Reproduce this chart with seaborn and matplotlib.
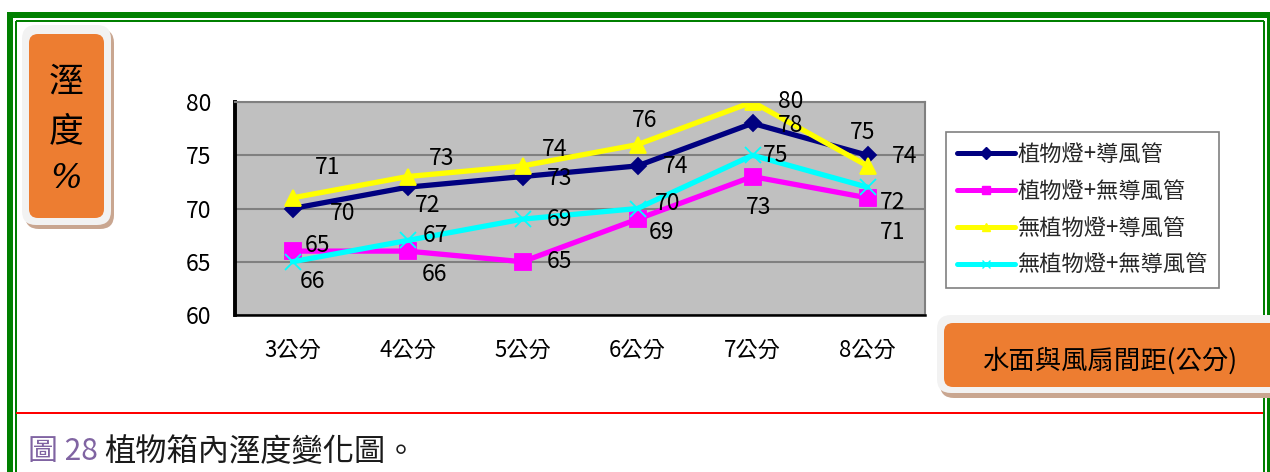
import numpy as np
import pandas as pd
import matplotlib
matplotlib.use("Agg")
import matplotlib.pyplot as plt
import seaborn as sns
from matplotlib.patches import FancyBboxPatch
from matplotlib.lines import Line2D

# ---- data ----
distances = ["3公分", "4公分", "5公分", "6公分", "7公分", "8公分"]
series_names = ["植物燈+導風管", "植物燈+無導風管", "無植物燈+導風管", "無植物燈+無導風管"]
lamp_duct = [70, 72, 73, 74, 78, 75]
lamp_no_duct = [66, 66, 65, 69, 73, 71]
no_lamp_duct = [71, 73, 74, 76, 80, 74]
no_lamp_no_duct = [65, 67, 69, 70, 75, 72]
y_ticks = [60, 65, 70, 75, 80]

y_title = ["溼", "度", "%"]
x_title = "水面與風扇間距(公分)"
caption_num = "圖 28"
caption_text = "植物箱內溼度變化圖。"

# ---- styles ----
colors = ["#000080", "#FF00FF", "#FFFF00", "#00FFFF"]
markers = ["D", "s", "^", "x"]
marker_sizes = [8.5, 12, 12, 12]
# data-label offsets (pixels, right / down) for each series and point
label_offsets = [
    [(50, 5), (20, 18), (37, 2), (38, 1), (38, 2), (-5, -23)],
    [(20, 30), (27, 23), (37, 0), (24, 13), (6, 31), (25, 35)],
    [(35, -30), (34, -18), (32, -16), (7, -24), (38, 0), (37, -9)],
    [(25, -16), (28, -5), (37, 0), (30, -5), (23, 0), (25, 15)],
]

sns.set_style("white")
plt.rcParams["font.family"] = ["Noto Sans CJK TC", "DejaVu Sans"]

W, H = 1270, 472
fig = plt.figure(figsize=(W / 100, H / 100), dpi=100)

# background layer in pixel units for frame, boxes and caption
bg = fig.add_axes([0, 0, 1, 1])
bg.set_xlim(0, W)
bg.set_ylim(H, 0)
bg.axis("off")
bg.set_zorder(0)

green = "#008000"
px = 0.72  # points per pixel at 100 dpi
bg.plot([7, W], [15, 15], color=green, lw=6 * px, solid_capstyle="butt")
bg.plot([10, 10], [12, H], color=green, lw=6 * px, solid_capstyle="butt")
bg.plot([1269, 1269], [12, H], color=green, lw=4 * px, solid_capstyle="butt")
bg.plot([15.5, 1264], [21, 21], color=green, lw=2 * px, solid_capstyle="butt")
bg.plot([15.5, 15.5], [21, H], color=green, lw=2 * px, solid_capstyle="butt")
bg.plot([1264, 1264], [21, H], color=green, lw=2 * px, solid_capstyle="butt")
bg.plot([16, 1263], [413, 413], color="#FF0000", lw=2 * px, solid_capstyle="butt")


def rounded_box(x, y, w, h, r, color, z):
    bg.add_patch(FancyBboxPatch((x, y), w, h,
                                boxstyle=f"round,pad=0,rounding_size={r}",
                                fc=color, ec="none", zorder=z))


# y-axis title box
rounded_box(25, 29, 89, 200, 14, "#C9A690", 2)
rounded_box(22, 25, 89, 200, 14, "#F2F2F2", 3)
rounded_box(29, 34, 75, 184, 9, "#ED7D31", 4)
bg.text(66, 82, y_title[0], fontsize=25, ha="center", va="center",
        color="black", zorder=5)
bg.text(66, 132, y_title[1], fontsize=25, ha="center", va="center",
        color="black", zorder=5)
bg.text(66, 179, y_title[2], fontsize=24, ha="center", va="center",
        color="black", family="DejaVu Serif", fontstyle="italic", zorder=5)

# x-axis title box
rounded_box(940, 320, 360, 78, 14, "#C9A690", 2)
rounded_box(937, 315, 360, 78, 14, "#F2F2F2", 3)
rounded_box(944, 323, 350, 64, 9, "#ED7D31", 4)
bg.text(1110, 361, x_title, fontsize=19, ha="center", va="center",
        color="black", zorder=5)

# caption
bg.text(28, 452, caption_num, fontsize=21.5, ha="left", va="center",
        color="#8064A2", zorder=5)
bg.text(104, 452, caption_text, fontsize=22.5, ha="left", va="center",
        color="#1A1A1A", zorder=5)

# ---- main chart ----
ax = fig.add_axes([235 / W, 1 - 315 / H, (925 - 235) / W, (315 - 102) / H])
ax.set_zorder(2)
ax.set_facecolor("#C0C0C0")

all_series = [lamp_duct, lamp_no_duct, no_lamp_duct, no_lamp_no_duct]
positions = np.arange(len(distances))
frames = []
for name, vals in zip(series_names, all_series):
    frames.append(pd.DataFrame({"pos": positions, "dist": distances,
                                "humidity": vals, "group": name}))
df = pd.concat(frames, ignore_index=True)

for name, c, m, ms in zip(series_names, colors, markers, marker_sizes):
    sub = df[df["group"] == name]
    sns.lineplot(data=sub, x="pos", y="humidity", ax=ax, color=c,
                 marker=m, markersize=ms, markeredgecolor=c,
                 markeredgewidth=1.3, linewidth=3.8, legend=False,
                 errorbar=None, sort=False)

for vals, offs in zip(all_series, label_offsets):
    for i, (v, (dx, dy)) in enumerate(zip(vals, offs)):
        ax.annotate(str(v), (positions[i], v), xytext=(dx, -dy),
                    textcoords="offset pixels", ha="center", va="center",
                    fontsize=16.5, color="black", zorder=6)

ax.set_xlim(-0.5, len(distances) - 0.5)
ax.set_ylim(60, 80)
ax.set_yticks(y_ticks)
ax.set_yticklabels([str(t) for t in y_ticks], fontsize=16.5)
ax.set_xticks(positions)
ax.set_xticklabels(distances, fontsize=16)
ax.set_xticks(positions[:-1] + 0.5, minor=True)
ax.set_xlabel("")
ax.set_ylabel("")

ax.tick_params(axis="x", which="major", length=0, pad=17, colors="black")
ax.tick_params(axis="x", which="minor", direction="in", length=6,
               width=0.8, color="#606060")
ax.tick_params(axis="y", direction="in", length=6, width=2.2,
               color="black", pad=17, labelcolor="black")

ax.yaxis.grid(True, color="#808080", lw=1.5)
ax.xaxis.grid(False)
ax.set_axisbelow(True)

for side in ["top", "right"]:
    ax.spines[side].set_color("#808080")
    ax.spines[side].set_linewidth(1.5)
ax.spines["left"].set_color("black")
ax.spines["left"].set_linewidth(2.8)
ax.spines["bottom"].set_color("black")
ax.spines["bottom"].set_linewidth(1.8)

# legend
handles = [Line2D([], [], color=c, lw=3.6, marker=m, markersize=6,
                  markeredgecolor=c) for c, m in zip(colors, markers)]
leg = fig.legend(handles, series_names, loc="upper left",
                 bbox_to_anchor=(946 / W, 1 - 132 / H), borderaxespad=0,
                 fontsize=16, frameon=True, fancybox=False,
                 edgecolor="#808080", handlelength=2.6, handletextpad=0.1,
                 labelspacing=0.62, borderpad=0.5)
leg.get_frame().set_linewidth(1.2)
leg.get_frame().set_facecolor("white")
leg.get_frame().set_alpha(1)

fig.savefig("out.png", dpi=100)
